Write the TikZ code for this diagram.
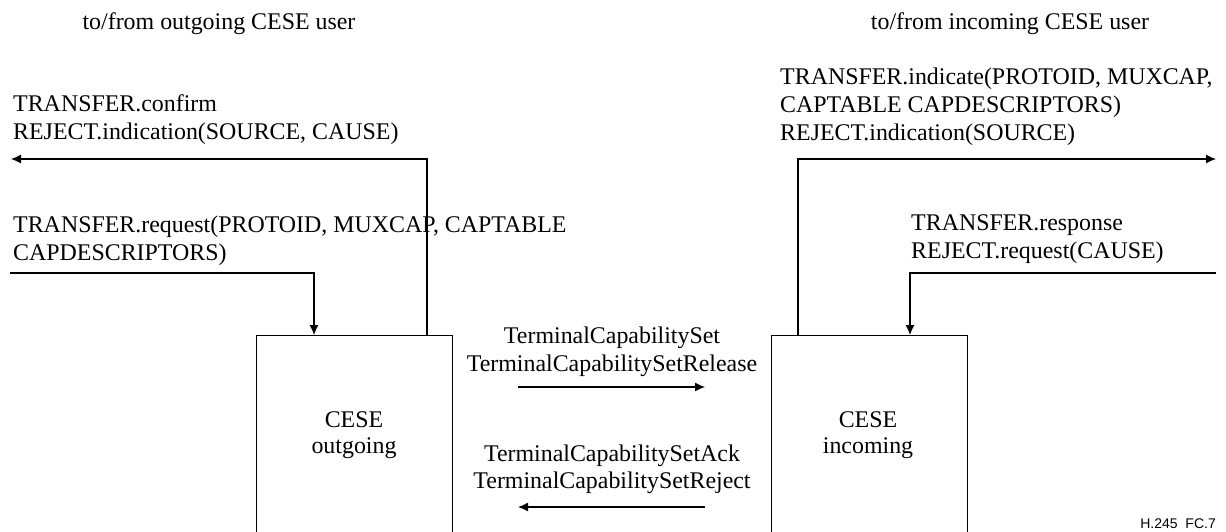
\documentclass[tikz,border=0pt]{standalone}
\usepackage{fontspec}
\setmainfont{Liberation Serif}
\newfontfamily\labelsans{Liberation Sans}
\usetikzlibrary{arrows.meta}
\tikzset{
  lbl/.style={inner sep=0pt, font=\fontsize{23.9}{28}\selectfont},
  boxnode/.style={draw, line width=1.2pt, inner sep=0pt, minimum width=196pt, minimum height=250pt, anchor=north west},
  arr/.style={line width=1.2pt, -{Latex[length=10pt,width=9pt]}},
}
\begin{document}
\begin{tikzpicture}[x=1pt,y=-1pt]
\clip (0,0) rectangle (1226,531);
\fill[white] (0,0) rectangle (1226,531);
% headers
\node[lbl, anchor=base] (h1) at (219,29) {to/from outgoing CESE user};
\node[lbl, anchor=base] (h2) at (1010,29) {to/from incoming CESE user};
% boxes
\node[boxnode] (outbox) at (256,335) {};
\node[boxnode] (inbox) at (771,335) {};
\node[lbl, anchor=base] (o1) at (354,427) {CESE};
\node[lbl, anchor=base] (o2) at (354,453) {outgoing};
\node[lbl, anchor=base] (i1) at (868,427) {CESE};
\node[lbl, anchor=base] (i2) at (868,453) {incoming};
% left texts
\node[lbl, anchor=base west] (lt1) at (13,111) {TRANSFER.confirm};
\node[lbl, anchor=base west] (lt2) at (13,139) {REJECT.indication(SOURCE, CAUSE)};
\node[lbl, anchor=base west] (lb1) at (13,232) {TRANSFER.request(PROTOID, MUXCAP, CAPTABLE};
\node[lbl, anchor=base west] (lb2) at (13,260) {CAPDESCRIPTORS)};
% right texts
\node[lbl, anchor=base west] (rt1) at (780,84) {TRANSFER.indicate(PROTOID, MUXCAP,};
\node[lbl, anchor=base west] (rt2) at (780,112) {CAPTABLE CAPDESCRIPTORS)};
\node[lbl, anchor=base west] (rt3) at (780,140) {REJECT.indication(SOURCE)};
\node[lbl, anchor=base west] (rb1) at (911,230) {TRANSFER.response};
\node[lbl, anchor=base west] (rb2) at (911,258) {REJECT.request(CAUSE)};
% middle texts
\node[lbl, anchor=base] (m1) at (612,343) {TerminalCapabilitySet};
\node[lbl, anchor=base] (m2) at (612,371) {TerminalCapabilitySetRelease};
\node[lbl, anchor=base] (m3) at (612,461) {TerminalCapabilitySetAck};
\node[lbl, anchor=base] (m4) at (612,488) {TerminalCapabilitySetReject};
% fig id
\node[inner sep=0pt, anchor=base east, font=\labelsans\fontsize{14}{16}\selectfont] (fc) at (1216,528) {H.245\ \ FC.7};
% connector end points
\coordinate (lout) at (11,159);
\coordinate (lin) at (10,273);
\coordinate (rout) at (1216,159);
\coordinate (rin) at (1216,273);
\coordinate (ma) at (518,387);
\coordinate (mb) at (705,387);
\coordinate (mc) at (705,507);
\coordinate (md) at (518,507);
% connectors
\draw[arr] ([xshift=171pt]outbox.north west) |- (lout);
\draw[arr] (lin) -| ([xshift=58pt]outbox.north west);
\draw[arr] ([xshift=27pt]inbox.north west) |- (rout);
\draw[arr] (rin) -| ([xshift=139pt]inbox.north west);
\draw[arr] (ma) -- (mb);
\draw[arr] (mc) -- (md);
\end{tikzpicture}
\end{document}
